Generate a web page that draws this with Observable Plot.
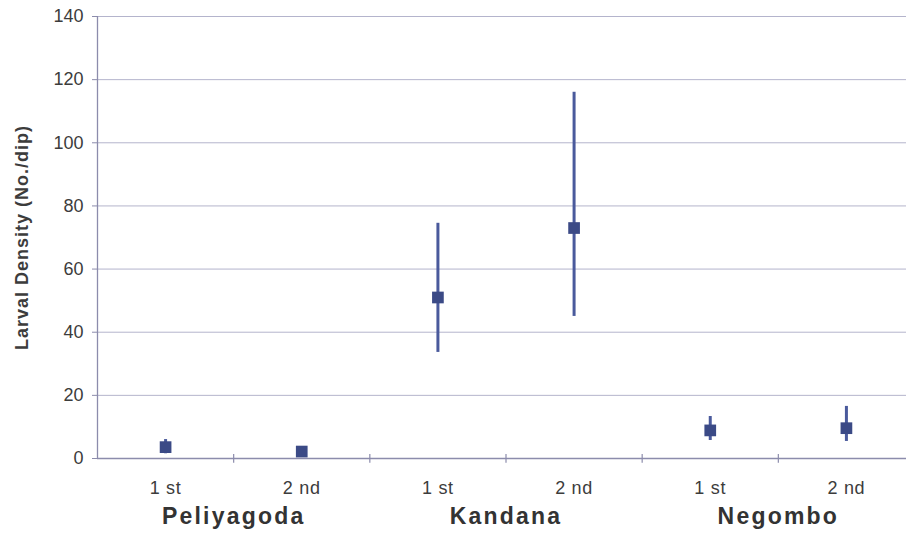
<!DOCTYPE html>
<html>
<head>
<meta charset="utf-8">
<script src="https://cdn.jsdelivr.net/npm/d3@7"></script>
<script src="https://cdn.jsdelivr.net/npm/@observablehq/plot@0.6"></script>
<style>
  html, body { margin: 0; padding: 0; background: #fff; }
  svg { display: block; }
</style>
</head>
<body>
<div id="chart"></div>
<script>
const sites = ["Peliyagoda", "Peliyagoda", "Kandana", "Kandana", "Negombo", "Negombo"];
const rounds = ["1 st", "2 nd", "1 st", "2 nd", "1 st", "2 nd"];
const means = [3.6, 2.2, 51, 73, 8.9, 9.6];
const lows = [1.5, 1.5, 33.6, 45, 5.7, 5.4];
const highs = [6, 3, 74.5, 116, 13.3, 16.5];
const yTicks = [0, 20, 40, 60, 80, 100, 120, 140];
const siteNames = ["Peliyagoda", "Kandana", "Negombo"];
const yLabel = "Larval Density (No./dip)";

const data = means.map((m, i) => ({i, site: sites[i], round: rounds[i], mean: m, low: lows[i], high: highs[i]}));
const siteData = siteNames.map(s => ({site: s, pos: d3.mean(data.filter(d => d.site === s), d => d.i)}));
const bounds = d3.range(0.5, data.length - 1, 1);

const markColor = "#3b4a86";
const barColor = "#4a5a9c";
const axisColor = "#8c8cac";

const chart = Plot.plot({
  width: 906,
  height: 544,
  marginTop: 16,
  marginBottom: 86,
  marginLeft: 97,
  marginRight: 0,
  style: {fontFamily: "Liberation Sans, Arial, sans-serif", background: "#fff"},
  x: {type: "linear", domain: [-0.5, data.length - 0.5], range: [97, 914], axis: null},
  y: {domain: [0, 140], range: [458, 16], axis: null},
  marks: [
    Plot.ruleY(yTicks.filter(t => t > 0), {stroke: "#b4b4cc", strokeWidth: 1}),
    Plot.ruleY([0], {stroke: axisColor, strokeWidth: 1.3}),
    Plot.ruleX([-0.5], {stroke: axisColor, strokeWidth: 1.3}),
    Plot.axisY({ticks: yTicks, tickSize: 5, tickPadding: 9, stroke: axisColor, fill: "#3c3c3c", fontSize: 18, label: null}),
    Plot.text([yLabel], {frameAnchor: "left", textAnchor: "middle", rotate: -90, dx: -75, fill: "#3c3c3c", fontSize: 18, fontWeight: "bold"}),
    Plot.ruleX(bounds, {x: d => d, y1: -1.5, y2: 1.3, stroke: axisColor, strokeWidth: 1.2}),
    Plot.text(data, {x: "i", y: 0, text: "round", dy: 30, fill: "#3c3c3c", fontSize: 18}),
    Plot.text(siteData, {x: "pos", y: 0, text: "site", dy: 58, fill: "#333", fontSize: 23, fontWeight: "bold"}),
    Plot.ruleX(data, {x: "i", y1: "low", y2: "high", stroke: barColor, strokeWidth: 3}),
    Plot.dot(data, {x: "i", y: "mean", symbol: "square", r: 6.6, fill: markColor, stroke: "none"})
  ]
});

// letter spacing to match the reference's loosely set type
const spacing = new Map([[yLabel, "1px"], ...siteNames.map(s => [s, "2.2px"]), ...rounds.map(r => [r, "0.7px"])]);
d3.select(chart).selectAll("text").each(function() {
  const s = spacing.get(this.textContent);
  if (s) this.setAttribute("letter-spacing", s);
});
document.getElementById("chart").appendChild(chart);
</script>
</body>
</html>
